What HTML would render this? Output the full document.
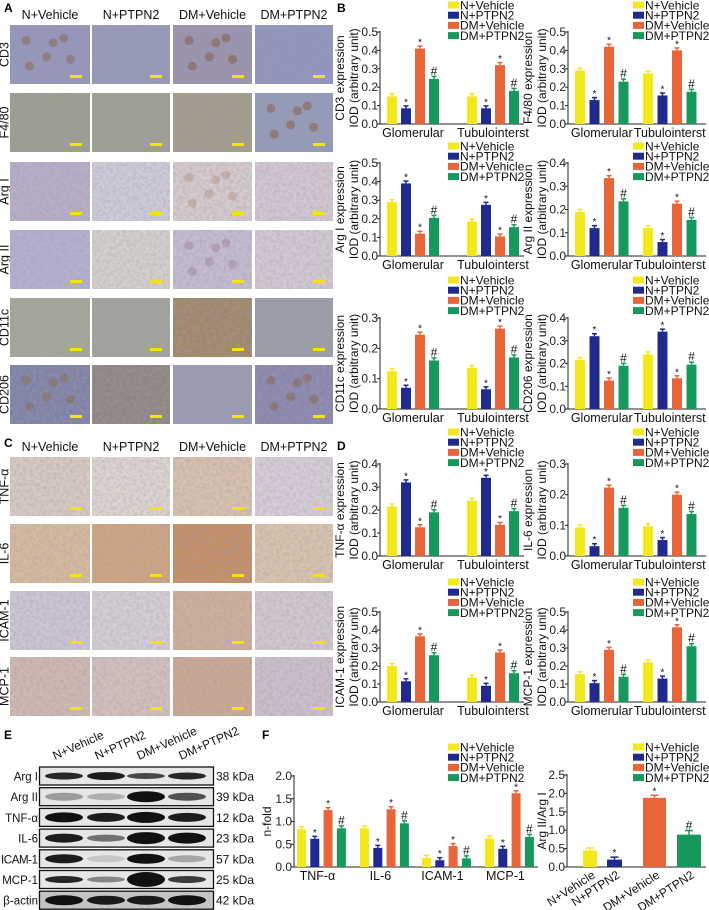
<!DOCTYPE html>
<html><head><meta charset="utf-8"><style>
html,body{margin:0;padding:0;background:#fff;}
svg{display:block;font-family:"Liberation Sans",Arial,sans-serif;}
</style></head>
<body>
<svg id="fig" width="709" height="910" viewBox="0 0 709 910" xmlns="http://www.w3.org/2000/svg">
<defs>
<filter id="tex" x="0" y="0" width="100%" height="100%">
<feTurbulence type="fractalNoise" baseFrequency="0.3" numOctaves="2" seed="3" result="n"/>
<feColorMatrix type="matrix" values="0 0 0 0 0.35  0 0 0 0 0.33  0 0 0 0 0.4  0 0 0 -0.9 0.6" in="n" result="m"/>
<feComposite in="m" in2="SourceGraphic" operator="atop"/>
</filter>
</defs>
</svg>
<script>
const legendLabels = ['N+Vehicle','N+PTPN2','DM+Vehicle','DM+PTPN2'];
const ihcCategories = ['Glomerular','Tubulointerst'];
const cd3Values   = [[0.15,0.085,0.41,0.245],[0.15,0.085,0.32,0.18]];
const f480Values  = [[0.29,0.13,0.42,0.23],[0.275,0.155,0.40,0.175]];
const arg1Values  = [[0.29,0.39,0.12,0.205],[0.185,0.275,0.105,0.155]];
const arg2Values  = [[0.19,0.12,0.335,0.235],[0.12,0.06,0.225,0.155]];
const cd11cValues = [[0.125,0.07,0.245,0.16],[0.135,0.065,0.265,0.17]];
const cd206Values = [[0.215,0.32,0.125,0.19],[0.24,0.34,0.135,0.195]];
const tnfValues   = [[0.215,0.32,0.125,0.19],[0.24,0.34,0.135,0.195]];
const il6Values   = [[0.093,0.032,0.223,0.157],[0.097,0.052,0.2,0.137]];
const icamValues  = [[0.2,0.115,0.365,0.26],[0.135,0.09,0.275,0.16]];
const mcpValues   = [[0.155,0.105,0.29,0.14],[0.22,0.13,0.415,0.31]];
const wbCategories = ['TNF-α','IL-6','ICAM-1','MCP-1'];
const wbValues = [[0.83,0.62,1.25,0.85],[0.85,0.42,1.27,0.96],[0.2,0.15,0.46,0.19],[0.63,0.4,1.62,0.66]];
const ratioCategories = ['N+Vehicle','N+PTPN2','DM+Vehicle','DM+PTPN2'];
const ratioValues = [0.45,0.2,1.88,0.88];
const nfoldTicks = [0,0.5,1.0,1.5,2.0];
const ratioTicks = [0,0.5,1.0,1.5,2.0,2.5];

const COLORS=['#f3e81c','#202a8e','#e8653a','#17995c'];
const NS='http://www.w3.org/2000/svg';
const svg=document.getElementById('fig');
function el(tag,attrs,parent,text){const e=document.createElementNS(NS,tag);for(const k in attrs)e.setAttribute(k,attrs[k]);if(text!==undefined)e.textContent=text;(parent||svg).appendChild(e);return e;}

[['A',4,12],['B',337,12],['C',4,447],['D',337,450],['E',4,739],['F',262,739]].forEach(p=>{
  const t=el('text',{x:p[1],y:p[2],'font-size':12,'font-weight':'bold',fill:'#000'},svg,p[0]);
  
  
});

const colX=[10,92,173,255], colW=[80,78,79,78];
const blobPos=[[0.15,0.2],[0.7,0.15],[0.45,0.55],[0.2,0.75],[0.8,0.6],[0.55,0.25]];
function micro(panel,rows,rowY,rowH,headY,colors,blobs){
  legendLabels.forEach((h,i)=>{
    const t=el('text',{x:colX[i]+colW[i]/2,y:headY,'font-size':12.5,'text-anchor':'middle',fill:'#111'},svg,h);
    
    
  });
  rows.forEach((r,ri)=>{
    const y=rowY[ri];
    const t=el('text',{x:0,y:0,'font-size':12.5,'text-anchor':'middle',fill:'#111',transform:`translate(8.5,${y+rowH/2}) rotate(-90)`},svg,r);
    
    
    for(let c=0;c<4;c++){
      const g=el('g',{});
      
      
      el('rect',{x:colX[c],y:y,width:colW[c],height:rowH,fill:colors[ri][c],filter:'url(#tex)'},g);
      if(blobs[ri][c]){blobPos.forEach(p=>{el('circle',{cx:colX[c]+6+p[0]*(colW[c]-12),cy:y+6+p[1]*(rowH-12),r:4.5,fill:blobs[ri][c],opacity:0.4},g);});}
      el('rect',{x:colX[c]+colW[c]-20,y:y+rowH-9,width:12,height:3,fill:'#f5e600'},g);
    }
  });
}
micro('ihc-a',['CD3','F4/80','Arg I','Arg II','CD11c','CD206'],[25,93,162,230,298,365],59,19,
 [['#9496bb','#9598b9','#9a92ae','#8f95bf'],['#9c9e8f','#9ea092','#a29d8a','#929ab8'],['#b8aec8','#cfccd9','#d6cbcd','#d3c7d2'],['#b4b0d0','#d6d0cb','#c4bccf','#d2c9d3'],['#a6a698','#a2a39b','#a08866','#9a9ea8'],['#7f82a6','#8e8680','#9a9ab2','#8a86ae']],
 [['#8a5a3a',0,'#7a4a2a',0],[0,0,0,'#8a4a20'],[0,0,'#b08a7a',0],[0,0,'#a07a90',0],[0,0,0,0],['#8a6a40',0,0,'#8a6030']]);
micro('ihc-c',['TNF-α','IL-6','ICAM-1','MCP-1'],[457,524,591,657],59,451,
 [['#d8cac2','#ddd5cf','#d8c1ae','#d6cdd6'],['#d6ba9c','#cfa57f','#c58e60','#d9c3ad'],['#cdc6d5','#d5cfd3','#cfaf9a','#d2c8cf'],['#cfb9b1','#d1c0bc','#cca993','#cbbfcb']],
 [[0,0,0,0],[0,0,0,0],[0,0,0,0],[0,0,0,0]]);

function groupChart(c){
  const g=el('g',{});
  
  
  const yS=v=>c.zero-(v/c.max)*(c.zero-c.top);
  legendLabels.forEach((l,i)=>{
    const ly=c.ly+i*10.2;
    const lg=el('g',{},g);
    
    
    el('rect',{x:c.lx,y:ly-3.5,width:11,height:7,fill:COLORS[i]},lg);
    el('text',{x:c.lx+12,y:ly+4.3,'font-size':12,fill:'#111'},lg,l);
  });
  el('line',{x1:c.ax,y1:c.top-1,x2:c.ax,y2:c.zero,stroke:'#222','stroke-width':1},g);
  el('line',{x1:c.ax,y1:c.zero,x2:c.axEnd,y2:c.zero,stroke:'#222','stroke-width':1},g);
  c.ticks.forEach(t=>{
    const y=yS(t);
    el('line',{x1:c.ax-3,y1:y,x2:c.ax,y2:y,stroke:'#222'},g);
    const tt=el('text',{x:c.ax-2,y:y+4,'font-size':12,'text-anchor':'end',fill:'#222'},g,t.toFixed(1));
    
    
  });
  const my=(c.top+c.zero)/2;
  c.titles.forEach((tl,i)=>{
    const t=el('text',{x:0,y:0,'font-size':12,'text-anchor':'middle',fill:'#111',transform:`translate(${c.tx[i]},${my}) rotate(-90)`},g,tl);
    
    
  });
  c.values.forEach((vals,gi)=>{
    const gx=c.starts[gi];
    vals.forEach((v,bi)=>{
      const x=gx+bi*c.step, y=yS(v), h=c.zero-y;
      const b=el('rect',{x:x,y:y,width:c.bw,height:h,fill:COLORS[bi]},g);
      
      
      const e=2.5;
      el('line',{x1:x+c.bw/2,y1:y,x2:x+c.bw/2,y2:y-e,stroke:COLORS[bi],'stroke-width':1.5},g);
      el('line',{x1:x+c.bw/2-2.5,y1:y-e,x2:x+c.bw/2+2.5,y2:y-e,stroke:COLORS[bi],'stroke-width':1.5},g);
      if(bi>0){el('text',{x:x+c.bw/2,y:y-e-(bi===3?1.5:0.5),'font-size':bi===3?12:10,'text-anchor':'middle',fill:'#111'},g,bi===3?'#':'*');}
    });
    if(c.cats[gi]){
      const lab=el('text',{x:gx+(c.step*3+c.bw)/2+c.labOff,y:c.zero+13,'font-size':12.5,'text-anchor':'middle',fill:'#111'},g,c.cats[gi]);
      
      
    }
  });
}
const L={ax:380,axEnd:524,starts:[387,467],bw:10,step:14,lx:448,tx:[344,358],labOff:0};
const R={ax:568,axEnd:706,starts:[575,643],bw:10,step:14.5,lx:633,tx:[532,546],labOff:0};
const rows=[
 {zero:124,top:32,ly:5},{zero:256,top:163,ly:146},{zero:409,top:318,ly:280},{zero:556,top:464,ly:432},{zero:702,top:612,ly:582}];
function tk(max,st){const a=[];for(let v=0;v<=max+1e-9;v+=st)a.push(Math.round(v*10)/10);return a;}
const specs=[
 [L,0,'cd3-chart',cd3Values,0.5,0.1,'CD3 expression'],
 [R,0,'f480-chart',f480Values,0.5,0.1,'F4/80 expression'],
 [L,1,'arg1-chart',arg1Values,0.5,0.1,'Arg I expression'],
 [R,1,'arg2-chart',arg2Values,0.4,0.1,'Arg II expression'],
 [L,2,'cd11c-chart',cd11cValues,0.3,0.1,'CD11c expression'],
 [R,2,'cd206-chart',cd206Values,0.4,0.1,'CD206 expression'],
 [L,3,'tnf-chart',tnfValues,0.4,0.1,'TNF-α expression'],
 [R,3,'il6-chart',il6Values,0.3,0.1,'IL-6 expression'],
 [L,4,'icam-chart',icamValues,0.5,0.1,'ICAM-1 expression'],
 [R,4,'mcp-chart',mcpValues,0.5,0.1,'MCP-1 expression']];
specs.forEach(s=>{
  const side=s[0],r=rows[s[1]];
  groupChart(Object.assign({},side,r,{name:s[2],values:s[3],max:s[4],ticks:tk(s[4],s[5]),titles:[s[6],'IOD (arbitrary unit)'],cats:ihcCategories}));
});
groupChart({name:'nfold-chart',ax:294,axEnd:538,zero:867,top:776,max:2.0,ticks:nfoldTicks,values:wbValues,cats:wbCategories,
 starts:[297,360,422,485],bw:9,step:13.3,lx:448,ly:747,titles:['n-fold'],tx:[271],labOff:-4});

(function(){
  const g=el('g',{});
  
  
  const ax=567,zero=867,top=775,max=2.5;
  const yS=v=>zero-(v/max)*(zero-top);
  legendLabels.forEach((l,i)=>{
    const ly=747+i*10.2;
    const lg=el('g',{},g);
    
    
    el('rect',{x:633,y:ly-3.5,width:11,height:7,fill:COLORS[i]},lg);
    el('text',{x:645,y:ly+4.3,'font-size':12,fill:'#111'},lg,l);
  });
  el('line',{x1:ax,y1:top-1,x2:ax,y2:zero,stroke:'#222'},g);
  el('line',{x1:ax,y1:zero,x2:706,y2:zero,stroke:'#222'},g);
  ratioTicks.forEach(t=>{const y=yS(t);el('line',{x1:ax-3,y1:y,x2:ax,y2:y,stroke:'#222'},g);
    const tt=el('text',{x:ax-2,y:y+4,'font-size':12,'text-anchor':'end',fill:'#222'},g,t.toFixed(1));
    
    });
  const tt=el('text',{x:0,y:0,'font-size':12,'text-anchor':'middle',fill:'#111',transform:`translate(546,821) rotate(-90)`},g,'Arg II/Arg I');
  
  
  const centers=[590,614.5,654.5,689],widths=[14,15,23,24];
  ratioValues.forEach((v,i)=>{
    const y=yS(v),x=centers[i]-widths[i]/2;
    const b=el('rect',{x:x,y:y,width:widths[i],height:zero-y,fill:COLORS[i]},g);
    
    
    const e=i===3?4:2.5;
    el('line',{x1:centers[i],y1:y,x2:centers[i],y2:y-e,stroke:COLORS[i],'stroke-width':1.5},g);
    el('line',{x1:centers[i]-4,y1:y-e,x2:centers[i]+4,y2:y-e,stroke:COLORS[i],'stroke-width':1.5},g);
    if(i>0)el('text',{x:centers[i],y:y-e-1,'font-size':i===3?12:10,'text-anchor':'middle',fill:'#111'},g,i===3?'#':'*');
    const lab=el('text',{x:0,y:0,'font-size':12,'text-anchor':'end',fill:'#111',transform:`translate(${centers[i]+6},${zero+10}) rotate(-33)`},g,ratioCategories[i]);
    
    
  });
})();

(function(){
  const g=el('g',{});
  
  
  const rowsWB=['Arg I','Arg II','TNF-α','IL-6','ICAM-1','MCP-1','β-actin'];
  const kda=['38 kDa','39 kDa','12 kDa','23 kDa','57 kDa','25 kDa','42 kDa'];
  const inten=[[0.9,0.95,0.75,0.9],[0.35,0.25,1,0.7],[1,0.95,1,0.95],[0.95,0.55,1,1],[0.95,0.15,1,0.3],[0.9,0.45,1,0.8],[1,0.95,0.95,1]];
  const thick=[[6,7,5,6],[7,6,10,7],[9,8,10,8],[8,6,11,10],[8,6,9,6],[6,5,14,6],[9,8,8,9]];
  const lanes=[64,106,146,187];
  legendLabels.forEach((h,i)=>{
    const t=el('text',{x:0,y:0,'font-size':12,fill:'#111',transform:`translate(${55+i*42},${760}) rotate(-24)`},g,h);
    
    
  });
  rowsWB.forEach((r,i)=>{
    const cy=776+i*20.7;
    el('rect',{x:39.5,y:cy-9,width:174,height:18,fill:i===6?'#c4c4c4':'#e6e6e6',stroke:'#111','stroke-width':1.3},g);
    lanes.forEach((lx,j)=>{
      el('ellipse',{cx:lx,cy:cy,rx:19,ry:thick[i][j]/2+0.5,fill:'#111',opacity:inten[i][j]},g);
    });
    const t=el('text',{x:38,y:cy+4.5,'font-size':11.5,'text-anchor':'end',fill:'#111',textLength:(r==='ICAM-1'?37:null)},g,r);
    if(r!=='ICAM-1')t.removeAttribute('textLength');
    
    
    const k=el('text',{x:216,y:cy+4.5,'font-size':12,fill:'#111'},g,kda[i]);
    
    
  });
})();
</script>
</body></html>
